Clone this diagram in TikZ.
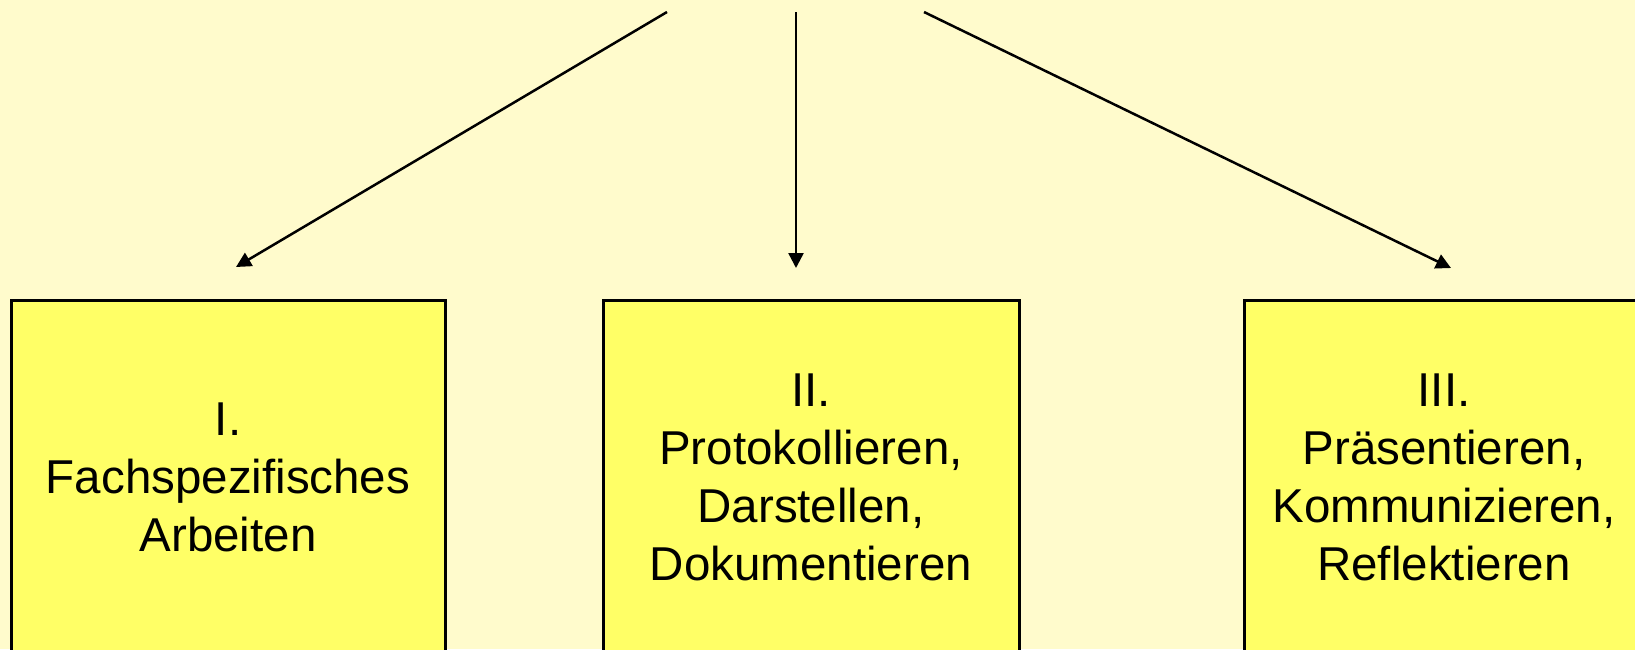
\documentclass[tikz,border=0pt]{standalone}
\usepackage{fontspec}
\setmainfont{Liberation Sans}
\usetikzlibrary{arrows.meta}
\definecolor{hintergrund}{RGB}{255,251,204}
\definecolor{kastengelb}{RGB}{255,255,102}

\begin{document}
\begin{tikzpicture}[x=1pt,y=-1pt,
  kasten/.style={draw=black,line width=3pt,fill=kastengelb,align=center,
    inner sep=0pt,minimum height=354pt,font=\fontsize{47.5}{58}\selectfont},
  pfeil/.style={line width=2.5pt,-{Triangle[length=15pt,width=15pt]}}]
\fill[hintergrund] (0,0) rectangle (1635,649);
\clip (0,0) rectangle (1635,649);
% Kaesten
\node[kasten,minimum width=434pt] (fach) at (228,477) {I.\\Fachspezifisches\\Arbeiten};
\node[kasten,minimum width=416pt] (proto) at (811,477) {II.\\Protokollieren,\\Darstellen,\\Dokumentieren};
\node[kasten,minimum width=400pt] (praes) at (1444,477) {III.\\Pr\"asentieren,\\Kommunizieren,\\Reflektieren};
% Pfeile
\coordinate (start1) at (667,12);
\coordinate (start2) at (796,12);
\coordinate (start3) at (924,12);
\coordinate (ziel1) at (236,267);
\coordinate (ziel2) at (796,268);
\coordinate (ziel3) at (1451,268);
\draw[pfeil] (start1) -- (ziel1);
\draw[pfeil] (start2) -- (ziel2);
\draw[pfeil] (start3) -- (ziel3);
\end{tikzpicture}
\end{document}
